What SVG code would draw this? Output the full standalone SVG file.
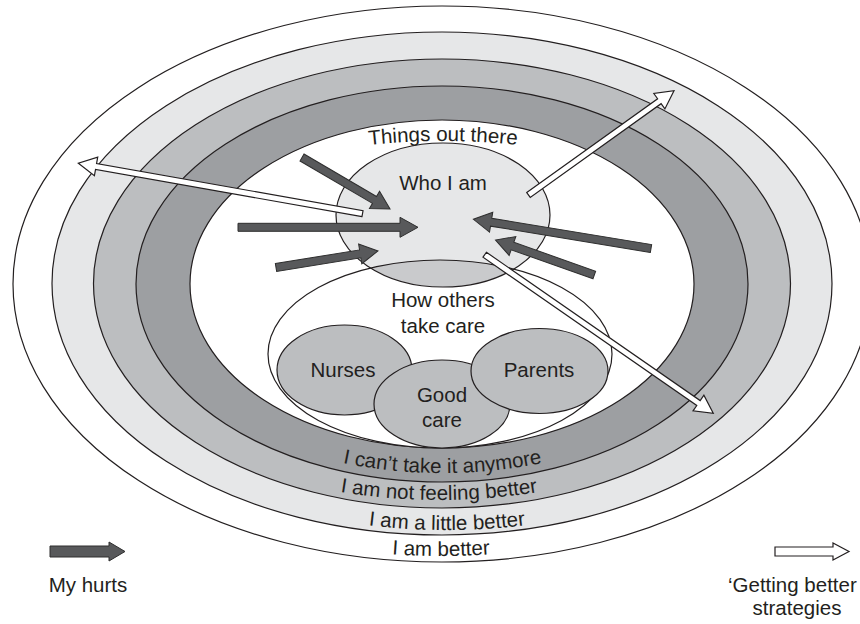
<svg xmlns="http://www.w3.org/2000/svg" width="860" height="624" viewBox="0 0 860 624">
<style>
text { font-family: "Liberation Sans", Arial, sans-serif; font-size: 20.5px; fill: #231f20; }
.ln { stroke: #231f20; stroke-width: 1.2; }
.hurt { fill: #58595b; stroke: #2e2e2e; stroke-width: 1; }
.better { fill: #ffffff; stroke: #231f20; stroke-width: 1.2; }
.node { fill: #bcbec0; stroke: #231f20; stroke-width: 1.2; }
.outline { fill: none; stroke: #231f20; stroke-width: 1.2; }
</style>
<defs>
  <clipPath id="whoClip"><ellipse cx="443" cy="215" rx="107" ry="72"/></clipPath>
  <path id="arcThings" d="M 343 148.2 A 700 700 0 0 1 543 148.2"/>
  <path id="arcCant" d="M 292.5 450 A 500 500 0 0 0 592.5 450"/>
  <path id="arcNot" d="M 289 481.7 A 625 625 0 0 0 589 481.7"/>
  <path id="arcLittle" d="M 297 512.5 A 650 650 0 0 0 597 512.5"/>
  <path id="arcBetter" d="M 291 539.7 A 700 700 0 0 0 591 539.7"/>
</defs>

<g id="rings">
  <ellipse class="ln" cx="442" cy="284" rx="429" ry="278" fill="#ffffff"/>
  <ellipse class="ln" cx="442" cy="283.5" rx="390" ry="251.5" fill="#e6e7e8"/>
  <ellipse class="ln" cx="442" cy="283.5" rx="348.5" ry="224.5" fill="#bcbec0"/>
  <ellipse class="ln" cx="442" cy="284" rx="306" ry="198" fill="#9d9fa2"/>
  <ellipse class="ln" cx="442" cy="284" rx="252" ry="164" fill="#ffffff"/>
  <text><textPath href="#arcThings" startOffset="50%" text-anchor="middle">Things out there</textPath></text>
  <text><textPath href="#arcCant" startOffset="50%" text-anchor="middle">I can’t take it anymore</textPath></text>
  <text><textPath href="#arcNot" startOffset="50%" text-anchor="middle">I am not feeling better</textPath></text>
  <text><textPath href="#arcLittle" startOffset="50%" text-anchor="middle">I am a little better</textPath></text>
  <text><textPath href="#arcBetter" startOffset="50%" text-anchor="middle">I am better</textPath></text>
</g>

<g id="how-others">
  <ellipse cx="440" cy="354" rx="172" ry="94" fill="#ffffff"/>
</g>
<g id="who-i-am">
  <ellipse cx="443" cy="215" rx="107" ry="72" fill="#e6e7e8"/>
  <ellipse cx="440" cy="354" rx="172" ry="94" fill="#c9cacc" clip-path="url(#whoClip)"/>
  <ellipse class="outline" cx="443" cy="215" rx="107" ry="72"/>
  <text x="443" y="190" text-anchor="middle">Who I am</text>
</g>
<g id="how-others-label">
  <ellipse class="outline" cx="440" cy="354" rx="172" ry="94"/>
  <text x="443" y="307" text-anchor="middle">How others</text>
  <text x="443" y="333" text-anchor="middle">take care</text>
</g>
<g id="nurses">
  <ellipse class="node" cx="344.5" cy="370" rx="67.5" ry="45"/>
  <text x="343" y="377" text-anchor="middle">Nurses</text>
</g>
<g id="good-care">
  <ellipse class="node" cx="442" cy="404" rx="68" ry="44"/>
  <text x="442" y="402" text-anchor="middle">Good</text>
  <text x="442" y="427" text-anchor="middle">care</text>
</g>
<g id="parents">
  <ellipse class="node" cx="539.5" cy="371" rx="68.5" ry="42.5"/>
  <text x="539" y="377" text-anchor="middle">Parents</text>
</g>

<g id="connectors">
  <polygon class="hurt" transform="translate(302,157.5) rotate(30.33)" points="0,-4 84,-4 84,-10 102,0 84,10 84,4 0,4"/>
  <polygon class="hurt" transform="translate(238,227.3)" points="0,-4 162,-4 162,-10 180,0 162,10 162,4 0,4"/>
  <polygon class="hurt" transform="translate(276,267.5) rotate(-9.19)" points="0,-4 85.3,-4 85.3,-10 103.3,0 85.3,10 85.3,4 0,4"/>
  <polygon class="hurt" transform="translate(651,248.5) rotate(-170.66)" points="0,-4 162,-4 162,-10 180,0 162,10 162,4 0,4"/>
  <polygon class="hurt" transform="translate(594.3,275) rotate(-160.5)" points="0,-4 86.8,-4 86.8,-10 104.8,0 86.8,10 86.8,4 0,4"/>
  <polygon class="better" transform="translate(528.5,195) rotate(-35.63)" points="0,-3 161,-3 161,-9.5 179,0 161,9.5 161,3 0,3"/>
  <polygon class="better" transform="translate(362.5,213.7) rotate(-169.94)" points="0,-3 270.6,-3 270.6,-9.5 288.6,0 270.6,9.5 270.6,3 0,3"/>
  <polygon class="better" transform="translate(484.7,254.7) rotate(34.76)" points="0,-3 260.2,-3 260.2,-9.5 278.2,0 260.2,9.5 260.2,3 0,3"/>
</g>

<g id="legend-hurts">
  <polygon class="hurt" points="50,546 109,546 109,542 125,551.5 109,561 109,557 50,557"/>
  <text x="88" y="592" text-anchor="middle">My hurts</text>
</g>
<g id="legend-better">
  <polygon class="better" points="775,547 833,547 833,543 849,551.5 833,560 833,556 775,556"/>
  <text x="728" y="592">‘Getting better</text>
  <text x="797" y="615" text-anchor="middle">strategies</text>
</g>
</svg>
